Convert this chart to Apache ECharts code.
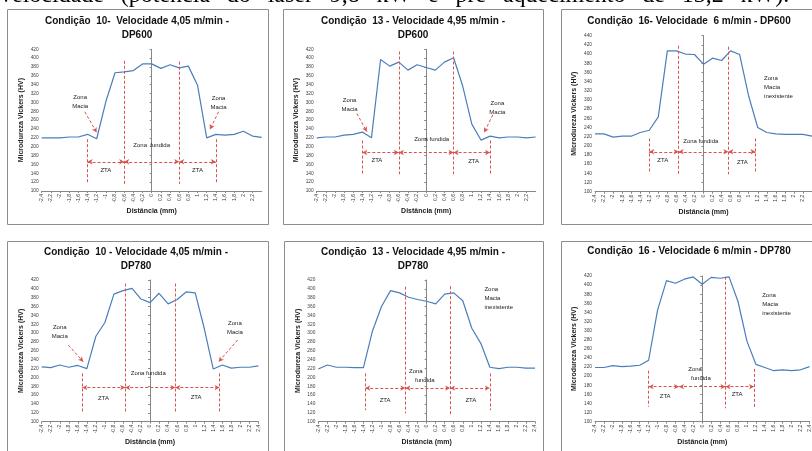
<!DOCTYPE html>
<html>
<head>
<meta charset="utf-8">
<script src="https://cdn.jsdelivr.net/npm/echarts@6/dist/echarts.min.js"></script>
<style>
html,body{margin:0;padding:0;background:#fff;}
#c{width:812px;height:451px;}
</style>
</head>
<body>
<div id="c"></div>
<script>
// ---------------- DATA ----------------
const distancia = [-2.4,-2.2,-2.0,-1.8,-1.6,-1.4,-1.2,-1.0,-0.8,-0.6,-0.4,-0.2,0,0.2,0.4,0.6,0.8,1.0,1.2,1.4,1.6,1.8,2.0,2.2,2.4];

const c10_dp600 = [220,220,220,222,222,228,218,302,367,369,372,387,387,377,385,378,382,339,220,228,226,228,235,224,221];
const c13_dp600 = [220,222,222,226,228,233,220,397,382,391,373,385,379,373,391,401,337,251,215,224,220,222,222,220,222];
const c16_dp600 = [226,226,219,221,221,229,234,263,407,407,400,399,378,391,386,407,399,308,240,229,226,225,225,225,221];
const c10_dp780 = [224,222,228,223,227,220,293,324,388,396,401,377,369,390,366,376,393,391,311,219,228,221,223,223,226];
const c13_dp780 = [219,228,223,223,222,222,305,360,396,391,381,376,372,366,388,391,373,311,277,223,220,223,223,221,221];
const c16_dp780 = [219,219,223,221,222,224,235,345,410,404,413,418,402,417,415,418,364,277,226,219,212,214,212,214,221];

const titulos = [
  "Condição  10-  Velocidade 4,05 m/min -\nDP600",
  "Condição  13 - Velocidade 4,95 m/min -\nDP600",
  "Condição  16- Velocidade  6 m/min - DP600",
  "Condição  10 - Velocidade 4,05 m/min -\nDP780",
  "Condição  13 - Velocidade 4,95 m/min -\nDP780",
  "Condição  16 - Velocidade 6 m/min - DP780"
];
const yMax = [420,420,440,420,420,420];
const yMin = 100;
const nomeY = "Microdureza Vickers (HV)";
const nomeX = "Distância (mm)";
const palavrasTopo = ["velocidade","(potência","do","laser","9,8","kW","e","pré","aquecimento","de","13,2","kW)."];

// annotation values (data space): zone limits [x, yTop, yBottom]
const limites = [
  [[-1.4,217,116],[-0.6,394,116],[0.6,392,116],[1.4,217,116]],
  [[-1.4,214,136],[-0.6,415,138],[0.6,415,138],[1.4,214,136]],
  [[-1.2,216,143],[-0.55,418,138],[0.55,416,138],[1.15,216,140]],
  [[-1.5,209,119],[-0.55,412,119],[0.56,412,119],[1.54,209,119]],
  [[-1.36,209,126],[-0.47,405,119],[0.52,406,115],[1.4,209,126]],
  [[-1.2,212,133],[-0.52,422,137],[0.52,418.5,129.5],[1.16,216,128]]
];
const setaY = [166,187,187,177,176,177];
const zta = [
  [[-1.0,146],[1.0,146]],
  [[-1.08,170],[1.04,166]],
  [[-0.9,169],[0.86,165]],
  [[-1.03,153],[1.02,154]],
  [[-0.92,149],[0.98,149]],
  [[-0.83,155],[0.78,159]]
];
// fused zone labels: [text, x, y]
const fundida = [
  [["Zona  fundida",0,202]],
  [["Zona fundida",0.12,217]],
  [["Zona fundida",-0.06,210]],
  [["Zona fundida",-0.04,209]],
  [["Zona",-0.24,214.5],["fundida",-0.04,194]],
  [["Zona",-0.16,215],["fundida",-0.03,195]]
];
// soft zone: label [x,y] and arrow [x1,y1,x2,y2]
const macia = [
  [{t:[-1.56,301],a:[-1.46,279,-1.2,232]},{t:[1.46,298],a:[1.46,279,1.27,239]}],
  [{t:[-1.68,295.5],a:[-1.52,275,-1.3,234]},{t:[1.56,288],a:[1.46,272,1.27,232]}],
  [],
  [{t:[-2.0,302],a:[-1.81,273,-1.48,235.5]},{t:[1.88,312],a:[1.94,284.5,1.52,235.5]}],
  [],
  []
];
const inexistente = [null,null,[1.34,327],null,[1.28,379],[1.34,358.5]];

// ---------------- LAYOUT ----------------
const grids = [
  {left:41.7, top:49.3, width:220, height:141.7},
  {left:316.7, top:49.3, width:219, height:141.7},
  {left:595, top:35.7, width:219, height:156},
  {left:41.7, top:280, width:216.7, height:141.7},
  {left:318.3, top:280, width:216.7, height:141.7},
  {left:595, top:276, width:216, height:145.7}
];
const titlePos = [
  {x:137, y:14}, {x:413, y:14}, {x:689, y:14.5},
  {x:136, y:245}, {x:413, y:245}, {x:689, y:244.5}
];
const panels = [
  [7,9,261,215],[283,9,260,215],[561,9,260,215],
  [7,241,261,230],[284,241,259,230],[561,241,260,230]
];
const showMax = [false,false,false,true,true,true];

const RED = '#d9534f';
const BLUE = '#4a7ebb';
const AXIS = '#868686';
const TXT = '#404040';
const FONT = 'Liberation Sans, Arial, sans-serif';

const series = [c10_dp600,c13_dp600,c16_dp600,c10_dp780,c13_dp780,c16_dp780];

function fmtX(v){ const r = Math.round(v*10)/10; return String(r).replace('.',','); }

const option = {
  animation:false,
  backgroundColor:'#fff',
  textStyle:{fontFamily:FONT},
  title: titulos.map((t,i)=>({
    text:t, left:titlePos[i].x, top:titlePos[i].y, textAlign:'center', padding:0,
    textStyle:{fontFamily:FONT, fontWeight:'bold', fontSize:10, color:'#111', lineHeight:14}
  })),
  graphic: [
    {type:'text', left:0, top:-16, silent:true,
     style:{text:palavrasTopo.join('  \u2009'), font:'24px "Liberation Serif", "Times New Roman", serif', fill:'#000'}}
  ].concat(panels.map(p=>({
    type:'rect', silent:true, z:-1,
    shape:{x:p[0]+0.5,y:p[1]+0.5,width:p[2],height:p[3]},
    style:{fill:'none', stroke:'#8c8c8c', lineWidth:1}
  }))),
  grid: grids.map(g=>Object.assign({containLabel:false}, g)),
  xAxis: grids.map((g,i)=>({
    type:'value', gridIndex:i, min:-2.4, max:2.4, interval:0.2,
    name:nomeX, nameLocation:'middle', nameGap:17,
    nameTextStyle:{fontFamily:FONT, fontWeight:'bold', fontSize:7, color:'#222'},
    axisLine:{show:true, onZero:false, lineStyle:{color:AXIS, width:1}},
    axisTick:{show:true, length:2, lineStyle:{color:AXIS}},
    splitLine:{show:false},
    axisLabel:{rotate:90, fontSize:5, color:TXT, margin:3, formatter:fmtX,
               showMinLabel:true, showMaxLabel:showMax[i]}
  })),
  yAxis: grids.map((g,i)=>({
    type:'value', gridIndex:i, min:yMin, max:yMax[i], interval:20,
    name:nomeY, nameLocation:'middle', nameGap:17, nameRotate:90,
    nameTextStyle:{fontFamily:FONT, fontWeight:'bold', fontSize:7, color:'#222'},
    axisLine:{show:true, lineStyle:{color:AXIS, width:1}},
    axisTick:{show:true, length:2, lineStyle:{color:AXIS}},
    splitLine:{show:false},
    axisLabel:{fontSize:4.8, color:TXT, margin:3}
  })),
  series: series.map((vals,i)=>{
    const ml = [];
    limites[i].forEach(l=>{
      ml.push([{coord:[l[0],l[1]], symbol:'none'},{coord:[l[0],l[2]], symbol:'none'}]);
    });
    for(let k=0;k<3;k++){
      ml.push([{coord:[limites[i][k][0],setaY[i]], symbol:'arrow', symbolSize:[4,5]},
               {coord:[limites[i][k+1][0],setaY[i]], symbol:'arrow', symbolSize:[4,5]}]);
    }
    macia[i].forEach(m=>{
      ml.push([{coord:[m.a[0],m.a[1]], symbol:'none'},{coord:[m.a[2],m.a[3]], symbol:'arrow', symbolSize:[4,5]}]);
    });
    const mp = [];
    zta[i].forEach(z=>mp.push({name:'ZTA', coord:z}));
    fundida[i].forEach(f=>mp.push({name:f[0], coord:[f[1],f[2]]}));
    macia[i].forEach(m=>mp.push({name:'Zona\nMacia', coord:m.t}));
    if(inexistente[i]) mp.push({name:'Zona\nMacia\ninexistente', coord:inexistente[i], label:{align:'left'}});
    return {
      type:'line', xAxisIndex:i, yAxisIndex:i,
      data: distancia.map((d,k)=>[d, vals[k]]),
      showSymbol:false, symbol:'none',
      lineStyle:{color:BLUE, width:1.2},
      markLine:{silent:true, animation:false, symbol:['none','none'],
        label:{show:false}, emphasis:{disabled:true},
        lineStyle:{color:RED, type:[3,2], width:1}, data:ml},
      markPoint:{silent:true, animation:false, symbol:'circle', symbolSize:1,
        itemStyle:{color:'rgba(0,0,0,0)'},
        label:{show:true, position:'inside', color:'#222', fontSize:6, lineHeight:9,
               fontFamily:FONT, formatter:p=>p.name},
        data:mp}
    };
  })
};

const chart = echarts.init(document.getElementById('c'), null, {renderer:'canvas', width:812, height:451});
chart.setOption(option);
</script>
</body>
</html>
